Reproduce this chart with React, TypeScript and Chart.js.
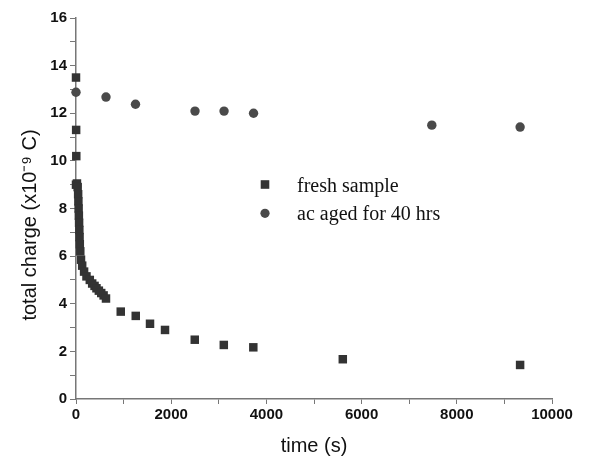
import React, { useEffect, useRef } from "react";
import { Chart, registerables } from "chart.js";

Chart.register(...registerables);

const freshTime = [0, 3, 6, 0, 20, 35, 45, 50, 55, 60, 65, 70, 75, 80, 90, 105, 130, 170, 220, 290, 340, 390, 430, 480, 530, 580, 630, 940, 1255, 1555, 1870, 2495, 3105, 3725, 5605, 9330];
const freshCharge = [13.5, 11.3, 10.2, 9.0, 9.05, 8.9, 8.6, 8.3, 8.0, 7.7, 7.4, 7.1, 6.8, 6.5, 6.2, 5.85, 5.6, 5.35, 5.15, 5.0, 4.85, 4.75, 4.65, 4.55, 4.45, 4.35, 4.22, 3.67, 3.49, 3.16, 2.9, 2.49, 2.27, 2.17, 1.67, 1.43];
const agedTime = [0, 630, 1250, 2500, 3110, 3730, 7475, 9330];
const agedCharge = [12.88, 12.68, 12.38, 12.09, 12.09, 12.0, 11.5, 11.42];

const seriesLabels = ["fresh sample", "ac aged for 40 hrs"];
const xTitle = "time (s)";
const yTitle = "total charge (x10\u207B\u2079 C)";

const overlayPlugin = {
  id: "overlay",
  afterDraw(chart: any) {
    const ctx = chart.ctx;
    ctx.save();
    // legend
    ctx.fillStyle = "#333";
    ctx.fillRect(265 - 4.3, 184.5 - 4.3, 8.6, 8.6);
    ctx.fillStyle = "#4a4a4a";
    ctx.beginPath();
    ctx.arc(265, 213.3, 4.6, 0, Math.PI * 2);
    ctx.fill();
    ctx.fillStyle = "#111";
    ctx.font = '20px "Liberation Serif", "Times New Roman", serif';
    ctx.textBaseline = "alphabetic";
    ctx.textAlign = "left";
    ctx.fillText(chart.data.datasets[0].label, 297, 191.5);
    ctx.fillText(chart.data.datasets[1].label, 297, 220);
    // y axis title
    ctx.translate(30, 225);
    ctx.rotate(-Math.PI / 2);
    ctx.textAlign = "center";
    ctx.textBaseline = "middle";
    ctx.font = '20px "Liberation Sans", Arial, sans-serif';
    ctx.fillText(yTitle, 0, 0);
    ctx.restore();
  },
};

export default function App() {
  const ref = useRef<HTMLCanvasElement>(null);
  useEffect(() => {
    document.body.style.margin = "0";
    const tickFont = { family: '"Liberation Sans", Arial, sans-serif', size: 15, weight: "bold" as const };
    const c = new Chart(ref.current!, {
      type: "scatter",
      data: {
        datasets: [
          {
            label: seriesLabels[0],
            data: freshTime.map((t, i) => ({ x: t, y: freshCharge[i] })),
            pointStyle: "rect",
            pointRadius: 6,
            backgroundColor: "#333",
            borderColor: "#333",
            borderWidth: 0,
            clip: false,
          },
          {
            label: seriesLabels[1],
            data: agedTime.map((t, i) => ({ x: t, y: agedCharge[i] })),
            pointStyle: "circle",
            pointRadius: 4.7,
            backgroundColor: "#4a4a4a",
            borderColor: "#4a4a4a",
            borderWidth: 0,
            clip: false,
          },
        ],
      },
      options: {
        animation: false,
        responsive: false,
        layout: { padding: { top: 18, right: 50, left: 0, bottom: 0 } },
        plugins: { legend: { display: false }, tooltip: { enabled: false } },
        scales: {
          x: {
            type: "linear",
            min: 0,
            max: 10000,
            afterFit: (s: any) => { s.height = 59; },
            ticks: {
              stepSize: 1000,
              autoSkip: false,
              maxRotation: 0,
              padding: 2,
              color: "#111",
              font: tickFont,
              callback: (v: any) => (v % 2000 === 0 ? String(v) : ""),
            },
            grid: { drawOnChartArea: false, drawTicks: true, tickLength: 5, color: "#777", tickColor: "#777" },
            border: { display: true, color: "#777", width: 1.5 },
            title: {
              display: true,
              text: xTitle,
              color: "#111",
              font: { family: '"Liberation Sans", Arial, sans-serif', size: 20 },
              padding: { top: 4, bottom: 0 },
            },
          },
          y: {
            type: "linear",
            min: 0,
            max: 16,
            afterFit: (s: any) => { s.width = 76; },
            ticks: {
              stepSize: 1,
              autoSkip: false,
              padding: 3,
              color: "#111",
              font: tickFont,
              callback: (v: any) => (v % 2 === 0 ? String(v) : ""),
            },
            grid: { drawOnChartArea: false, drawTicks: true, tickLength: 6, color: "#777", tickColor: "#777" },
            border: { display: true, color: "#777", width: 1.5 },
            title: { display: false },
          },
        },
      },
      plugins: [overlayPlugin],
    });
    return () => c.destroy();
  }, []);
  return (
    <div style={{ position: "absolute", left: 0, top: 0, width: 602, height: 458 }}>
      <canvas ref={ref} width={602} height={458} style={{ width: 602, height: 458 }} />
    </div>
  );
}
